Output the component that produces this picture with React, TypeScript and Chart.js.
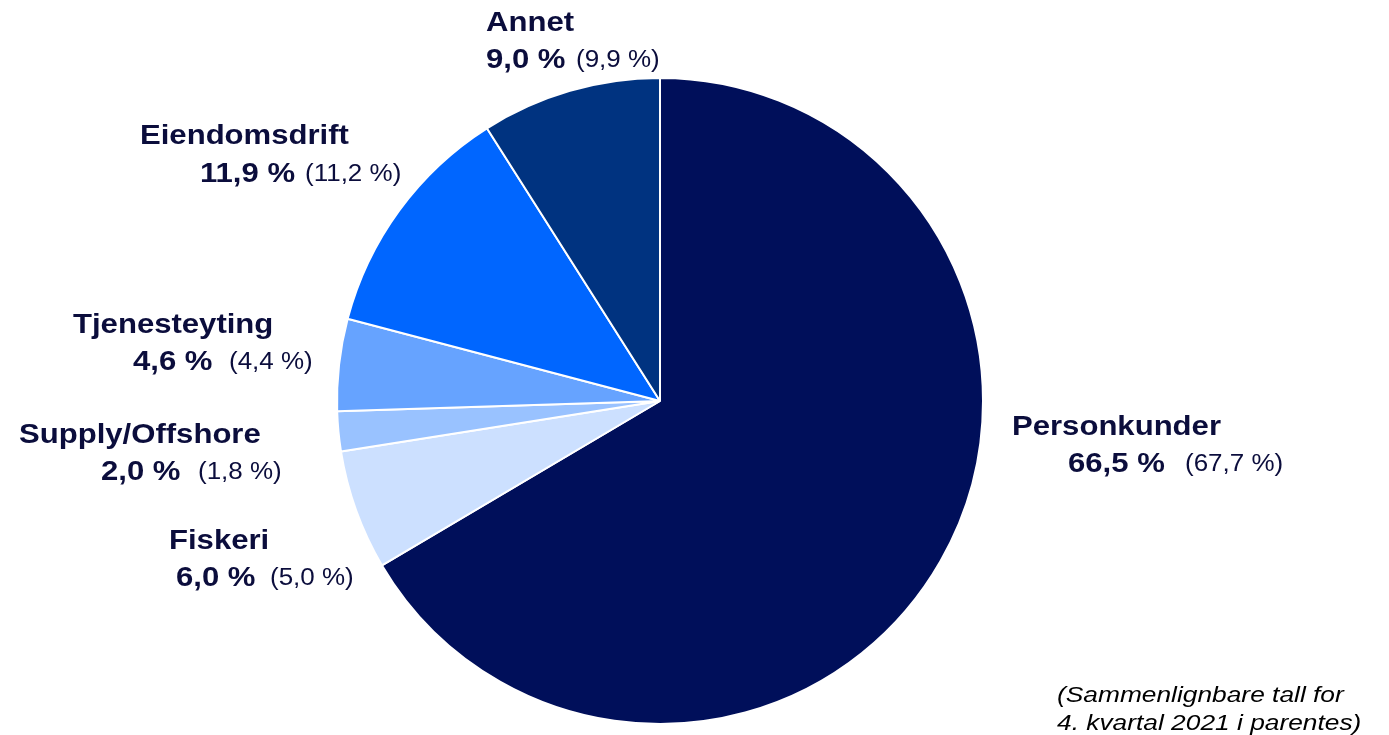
import React, { useEffect, useRef } from "react";
import { Chart, registerables } from "chart.js";

Chart.register(...registerables);

const categories = ["Personkunder", "Fiskeri", "Supply/Offshore", "Tjenesteyting", "Eiendomsdrift", "Annet"];
const currentValues = [66.5, 6.0, 2.0, 4.6, 11.9, 9.0];
const previousValues = [67.7, 5.0, 1.8, 4.4, 11.2, 9.9];
const sliceColors = ["#000F5A", "#CCE0FF", "#99C2FF", "#66A3FF", "#0066FF", "#003380"];
const footnoteLines = ["(Sammenlignbare tall for", "4. kvartal 2021 i parentes)"];

// label layout: [nameX, nameBaseline, valueX, valueBaseline, prevX]
const labelLayout = [
  [1012, 435, 1068, 472, 1185],
  [169, 549, 176, 586, 270],
  [19, 443, 101, 480, 198],
  [73, 333, 133, 370, 229],
  [140, 144, 200, 182, 305],
  [486, 31, 486, 68, 576],
];

const fmt = (v: number) => v.toFixed(1).replace(".", ",") + " %";

const TEXT = "#0B0D3C";

function drawStretched(ctx: CanvasRenderingContext2D, text: string, x: number, y: number, font: string, color: string, sx: number) {
  ctx.save();
  ctx.font = font;
  ctx.fillStyle = color;
  ctx.textAlign = "left";
  ctx.textBaseline = "alphabetic";
  ctx.translate(x, y);
  ctx.scale(sx, 1);
  ctx.fillText(text, 0, 0);
  ctx.restore();
}

const labelPlugin = {
  id: "customLabels",
  afterDraw(chart: any) {
    const ctx = chart.ctx as CanvasRenderingContext2D;
    const bold = "bold 28px 'Liberation Sans', Arial, sans-serif";
    const reg = "23px 'Liberation Sans', Arial, sans-serif";
    categories.forEach((c, i) => {
      const [nx, ny, vx, vy, px] = labelLayout[i];
      drawStretched(ctx, c, nx, ny, bold, TEXT, 1.11);
      drawStretched(ctx, fmt(currentValues[i]), vx, vy, bold, TEXT, 1.11);
      drawStretched(ctx, "(" + fmt(previousValues[i]) + ")", px, vy - 1, reg, TEXT, 1.13);
    });
    const it = "italic 22.5px 'Liberation Sans', Arial, sans-serif";
    drawStretched(ctx, footnoteLines[0], 1057, 702, it, "#000000", 1.17);
    drawStretched(ctx, footnoteLines[1], 1057, 730, it, "#000000", 1.17);
  },
};

export default function App() {
  const ref = useRef<HTMLCanvasElement | null>(null);
  useEffect(() => {
    if (!ref.current) return;
    const chart = new Chart(ref.current, {
      type: "pie",
      data: {
        labels: categories,
        datasets: [
          {
            data: currentValues,
            backgroundColor: sliceColors,
            borderColor: "#FFFFFF",
            borderWidth: 2,
            hoverOffset: 0,
          },
        ],
      },
      options: {
        animation: false,
        responsive: true,
        maintainAspectRatio: false,
        layout: { padding: { left: 336, right: 405, top: 77, bottom: 10 } },
        plugins: { legend: { display: false }, tooltip: { enabled: false } },
      },
      plugins: [labelPlugin],
    });
    return () => chart.destroy();
  }, []);
  return (
    <div style={{ position: "absolute", left: 0, top: 0, width: 1389, height: 735, background: "#fff" }}>
      <canvas ref={ref} />
    </div>
  );
}
